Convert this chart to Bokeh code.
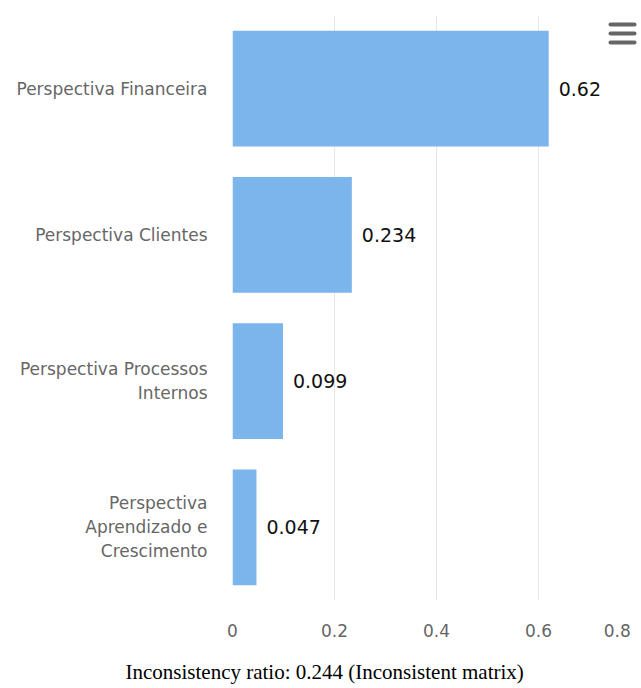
from bokeh.plotting import figure
from bokeh.models import ColumnDataSource, FactorRange, FixedTicker, Title, BoxAnnotation
from bokeh.core.properties import value
from bokeh.embed import file_html
from bokeh.resources import INLINE

categories = [
    "Perspectiva Financeira",
    "Perspectiva Clientes",
    "Perspectiva Processos\nInternos",
    "Perspectiva\nAprendizado e\nCrescimento",
]
weights = [0.62, 0.234, 0.099, 0.047]
weight_labels = ["0.62", "0.234", "0.099", "0.047"]
x_ticks = [0, 0.2, 0.4, 0.6, 0.8]
title_text = "Inconsistency ratio: 0.244 (Inconsistent matrix)"

src = ColumnDataSource(dict(cat=categories, w=weights, lab=weight_labels))

p = figure(
    frame_width=408, frame_height=585,
    y_range=FactorRange(*reversed(categories)),
    x_range=(0, 0.8),
    output_backend="svg", toolbar_location=None,
    min_border_left=232, min_border_right=1, min_border_top=15, min_border_bottom=0,
)
p.outline_line_color = None
p.background_fill_color = "white"

p.hbar(y="cat", right="w", left=0, height=0.79, source=src,
       fill_color="#7cb5ec", line_color=None)
p.text(x="w", y="cat", text="lab", source=src, x_offset=10,
       text_baseline="middle", text_align="left",
       text_font=value("DejaVu Sans"), text_font_size="19px", text_color="#111111")

# x axis
xa = p.xaxis[0]
xa.ticker = FixedTicker(ticks=x_ticks)
# last label is pulled inward so it stays inside the canvas
xa.major_label_overrides = {0.8: "0.8" + "\u00a0" * 2}
xa.axis_line_color = None
xa.major_tick_line_color = None
xa.minor_tick_line_color = None
xa.major_label_standoff = 14
xa.major_label_text_font = "DejaVu Sans"
xa.major_label_text_font_size = "17px"
xa.major_label_text_color = "#666666"

# y axis
ya = p.yaxis[0]
ya.axis_line_color = None
ya.major_tick_line_color = None
ya.minor_tick_line_color = None
ya.major_label_standoff = 19
ya.major_label_text_font = "DejaVu Sans"
ya.major_label_text_font_size = "17px"
ya.major_label_text_color = "#666666"
ya.major_label_text_line_height = 1.2

p.xgrid.grid_line_color = "#e6e6e6"
p.ygrid.grid_line_color = None

t = Title(text=title_text, align="left", text_font="Liberation Serif",
          text_font_size="21px", text_font_style="normal", text_color="#000000",
          standoff=28, offset=-107)
p.add_layout(t, "below")

# export menu icon (frame-relative screen units)
for top in (578, 569, 560):
    p.add_layout(BoxAnnotation(left=376, right=404, top=top, bottom=top - 4,
                               left_units="screen", right_units="screen",
                               top_units="screen", bottom_units="screen",
                               fill_color="#666666", fill_alpha=1, line_color=None,
                               border_radius=2))

open("out.html", "w").write(file_html(p, INLINE))
